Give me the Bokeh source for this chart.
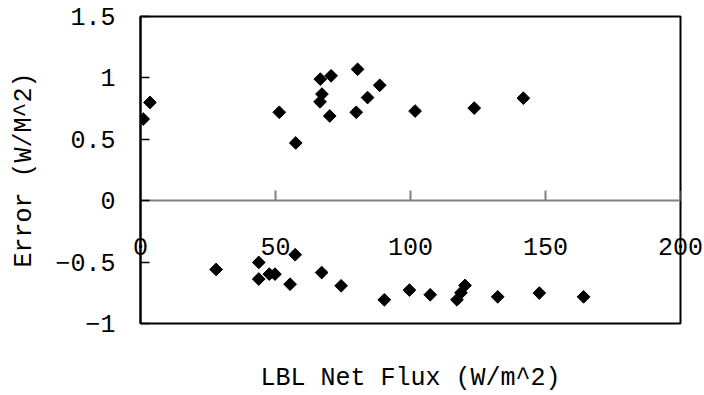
from bokeh.plotting import figure
from bokeh.models import LinearAxis, FixedTicker, Range1d
from bokeh.embed import file_html
from bokeh.resources import INLINE

# LBL net flux (W/m^2) and the model error (W/M^2) at each point
net_flux = [1.0, 3.5, 51.4, 57.5, 66.6, 70.6, 67.2, 66.5, 70.1, 80.4, 79.9,
            84.1, 88.6, 101.7, 123.6, 141.8,
            28.0, 43.8, 43.8, 47.7, 49.8, 57.3, 55.4, 67.1, 74.3, 90.3, 99.6,
            107.3, 117.2, 118.7, 120.2, 132.3, 147.7, 164.1]
error = [0.665, 0.80, 0.72, 0.47, 0.99, 1.017, 0.868, 0.805, 0.69, 1.07, 0.72,
         0.84, 0.94, 0.73, 0.754, 0.835,
         -0.56, -0.503, -0.638, -0.598, -0.598, -0.44, -0.68, -0.585, -0.693,
         -0.807, -0.728, -0.766, -0.807, -0.75, -0.69, -0.783, -0.752, -0.783]

x_ticks = [0, 50, 100, 150, 200]
y_ticks = [-1, -0.5, 0, 0.5, 1, 1.5]
y_tick_labels = ["\u22121", "\u22120.5", "0", "0.5", "1", "1.5"]

FONT = "Liberation Mono"
FONT_SIZE = "25px"

p = figure(width=704, height=395, output_backend="svg", toolbar_location=None,
           x_range=Range1d(0, 200), y_range=Range1d(-1, 1.5),
           x_axis_location=None, y_axis_location=None,
           min_border_left=140, min_border_right=24,
           min_border_top=16, min_border_bottom=72)
p.background_fill_color = "white"
p.border_fill_color = "white"
p.outline_line_color = "black"
p.outline_line_width = 2
p.xgrid.visible = False
p.ygrid.visible = False

# value axis on the left, ticks pointing into the plot
yaxis = LinearAxis(ticker=FixedTicker(ticks=y_ticks),
                   axis_label="Error (W/M^2)")
yaxis.major_label_overrides = {t: s for t, s in zip(y_ticks, y_tick_labels)}
yaxis.major_tick_in = 9
yaxis.major_tick_out = 0
yaxis.minor_tick_in = 0
yaxis.minor_tick_out = 0
yaxis.axis_line_color = "black"
yaxis.axis_line_width = 2
yaxis.major_tick_line_color = "black"
yaxis.major_tick_line_width = 1.5
yaxis.major_label_standoff = 25
yaxis.axis_label_standoff = 13
yaxis.major_label_text_font = FONT
yaxis.major_label_text_font_size = FONT_SIZE
yaxis.major_label_text_color = "black"
yaxis.axis_label_text_font = FONT
yaxis.axis_label_text_font_size = FONT_SIZE
yaxis.axis_label_text_font_style = "normal"
yaxis.axis_label_text_color = "black"
p.add_layout(yaxis, "left")

# flux axis line and ticks, crossing at zero error
zero_axis = LinearAxis(ticker=FixedTicker(ticks=x_ticks), fixed_location=0)
zero_axis.major_tick_in = 10
zero_axis.major_tick_out = 0
zero_axis.minor_tick_in = 0
zero_axis.minor_tick_out = 0
zero_axis.axis_line_color = "#808080"
zero_axis.axis_line_width = 2
zero_axis.major_tick_line_color = "#808080"
zero_axis.major_tick_line_width = 2
zero_axis.major_label_text_color = None
p.add_layout(zero_axis, "below")

# flux numbers and title: a bottom axis whose labels sit up inside the box
xaxis = LinearAxis(ticker=FixedTicker(ticks=x_ticks),
                   axis_label="LBL Net Flux (W/m^2)")
xaxis.axis_line_color = None
xaxis.major_tick_line_color = None
xaxis.minor_tick_line_color = None
xaxis.major_tick_in = 0
xaxis.major_tick_out = 0
xaxis.minor_tick_in = 0
xaxis.minor_tick_out = 0
xaxis.major_label_standoff = -86
xaxis.axis_label_standoff = 106
xaxis.major_label_text_font = FONT
xaxis.major_label_text_font_size = FONT_SIZE
xaxis.major_label_text_color = "black"
xaxis.axis_label_text_font = FONT
xaxis.axis_label_text_font_size = FONT_SIZE
xaxis.axis_label_text_font_style = "normal"
xaxis.axis_label_text_color = "black"
p.add_layout(xaxis, "below")

p.scatter(net_flux, error, marker="square", angle=0.785398, size=9,
          fill_color="black", line_color="black", line_width=1)

open("out.html", "w").write(file_html(p, INLINE))
